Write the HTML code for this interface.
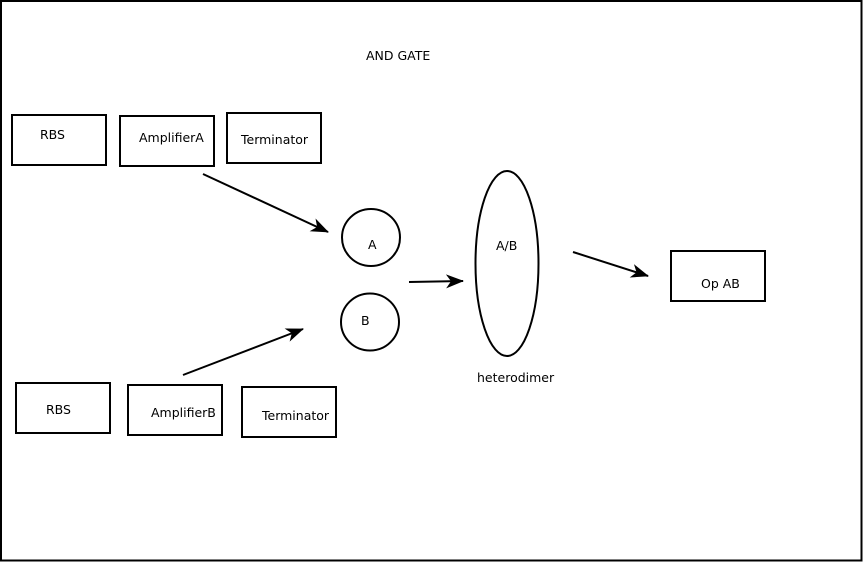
<!DOCTYPE html>
<html><head><meta charset="utf-8"><style>
html,body{margin:0;padding:0;background:#fff;width:863px;height:562px;overflow:hidden}
svg{display:block}
text{font-family:"DejaVu Sans","Liberation Sans",sans-serif;font-size:12.5px;fill:#000}
</style></head><body>
<svg width="863" height="562" viewBox="0 0 863 562" xmlns="http://www.w3.org/2000/svg">
<defs>
<marker id="ah" markerUnits="userSpaceOnUse" markerWidth="20" markerHeight="16" refX="17" refY="7" orient="auto">
<path d="M0,0 L18,7 L0,14 L5,7 Z" fill="#000"/>
</marker>
</defs>
<rect x="1" y="1" width="860.5" height="559.5" fill="none" stroke="#000" stroke-width="2"/>
<g fill="none" stroke="#000" stroke-width="2">
<rect x="12" y="115" width="94" height="50"/>
<rect x="120" y="116" width="94" height="50"/>
<rect x="227" y="113" width="94" height="50"/>
<rect x="16" y="383" width="94" height="50"/>
<rect x="128" y="385" width="94" height="50"/>
<rect x="242" y="387" width="94" height="50"/>
<rect x="671" y="251" width="94" height="50"/>
<ellipse cx="371" cy="237.5" rx="29" ry="28.5"/>
<ellipse cx="370" cy="322" rx="29" ry="28.5"/>
<ellipse cx="507" cy="263.5" rx="31.5" ry="92.5"/>
<line x1="203" y1="174" x2="328" y2="232" marker-end="url(#ah)"/>
<line x1="183" y1="375" x2="303" y2="329" marker-end="url(#ah)"/>
<line x1="409" y1="282" x2="463" y2="281" marker-end="url(#ah)"/>
<line x1="573" y1="252" x2="648" y2="276" marker-end="url(#ah)"/>
</g>
<text x="366" y="60">AND GATE</text>
<text x="40" y="139">RBS</text>
<text x="139" y="142">AmplifierA</text>
<text x="241" y="144">Terminator</text>
<text x="368" y="249">A</text>
<text x="361" y="325">B</text>
<text x="496" y="250">A/B</text>
<text x="701" y="288">Op AB</text>
<text x="477" y="382">heterodimer</text>
<text x="46" y="414">RBS</text>
<text x="151" y="417">AmplifierB</text>
<text x="262" y="420">Terminator</text>
</svg>
</body></html>
